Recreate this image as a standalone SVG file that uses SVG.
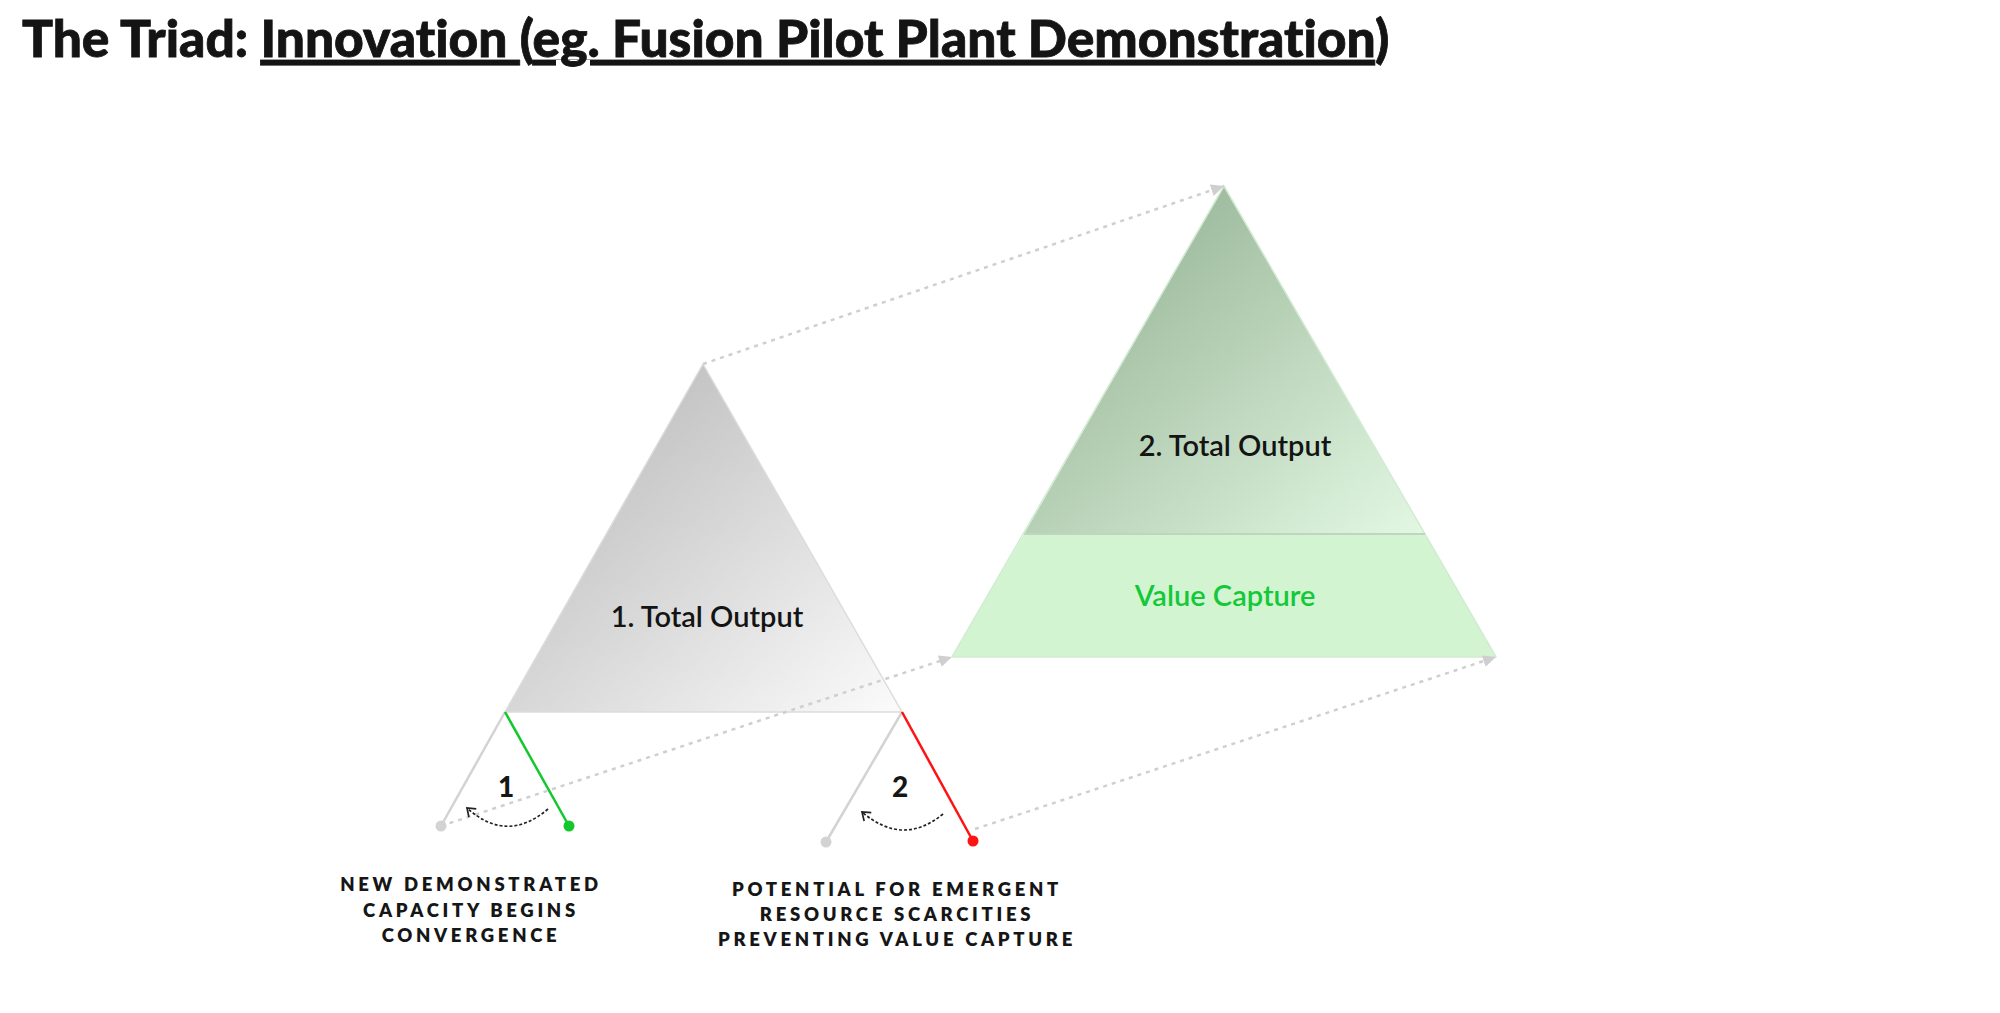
<svg xmlns="http://www.w3.org/2000/svg" width="2000" height="1013" viewBox="0 0 2000 1013">
  <style>
    text { font-variant-ligatures: none; }
    .title { font-family: Lato, "Noto Sans", sans-serif; font-weight: 900; font-size: 51.5px; fill: #141414; stroke: #141414; stroke-width: 0.8px; }
    .u { text-decoration: underline; }
    .tri-label { font-family: Lato, "Noto Sans", sans-serif; font-weight: 600; font-size: 29px; fill: #141414; text-anchor: middle; }
    .vc { font-family: Lato, "Noto Sans", sans-serif; font-weight: 600; font-size: 29px; fill: #14c83a; text-anchor: middle; }
    .num { font-family: Lato, "Noto Sans", sans-serif; font-weight: 900; font-size: 28px; fill: #161616; text-anchor: middle; }
    .cap { font-family: Lato, "Noto Sans", sans-serif; font-weight: 800; font-size: 18.5px; letter-spacing: 3.7px; fill: #161616; text-anchor: middle; }
    .dotted { fill: none; stroke: #cfcfcf; stroke-width: 2.5; stroke-dasharray: 4 5; }
    .curve { fill: none; stroke: #222; stroke-width: 1.7; stroke-dasharray: 3 2; }
    .leg { stroke-width: 2.5; fill: none; }
  </style>
  <defs>
    <linearGradient id="g1" x1="0.2" y1="0.2" x2="1" y2="1">
      <stop offset="0" stop-color="#c1c1c1"/>
      <stop offset="1" stop-color="#fbfbfb"/>
    </linearGradient>
    <linearGradient id="g2" x1="0.2" y1="0.2" x2="1" y2="1">
      <stop offset="0" stop-color="#9cb99c"/>
      <stop offset="1" stop-color="#e3f8e3"/>
    </linearGradient>
    <marker id="ah" markerUnits="userSpaceOnUse" markerWidth="14" markerHeight="12" refX="13" refY="6" orient="auto">
      <path d="M0,0 L13,6 L0,12 z" fill="#cfcfcf"/>
    </marker>
    <marker id="chev" markerUnits="userSpaceOnUse" markerWidth="12" markerHeight="14" refX="9" refY="7" orient="auto">
      <path d="M1.5,1.5 L9,7 L1.5,12.5" fill="none" stroke="#222" stroke-width="1.7"/>
    </marker>
  </defs>

  <g id="title">
    <text class="title" x="22" y="57">The Triad: <tspan class="u">Innovation </tspan>(<tspan class="u">eg. Fusion Pilot Plant Demonstration</tspan>)</text>
  </g>

  <g id="node-total-output-1">
    <polygon points="703,364 902,712 505,712" fill="url(#g1)" stroke="#dcdcdc" stroke-width="1.5" stroke-linejoin="round"/>
    <text class="tri-label" x="707" y="627">1. Total Output</text>
  </g>

  <g id="node-total-output-2">
    <polygon points="1024,534 1425,534 1496,657 952,657" fill="#d3f4d1"/>
    <polygon points="1224,186 1425,534 1024,534" fill="url(#g2)"/>
    <polygon points="1224,186 1496,657 952,657" fill="none" stroke="#d2ebd2" stroke-width="1.5" stroke-linejoin="round"/>
    <line x1="1024" y1="534" x2="1425" y2="534" stroke="#bfd5bf" stroke-width="2"/>
    <text class="tri-label" x="1235" y="456">2. Total Output</text>
    <text class="vc" x="1225" y="606">Value Capture</text>
  </g>

  <g id="connectors">
    <line class="dotted" x1="703" y1="364" x2="1224" y2="186" marker-end="url(#ah)"/>
    <line class="dotted" x1="441" y1="826" x2="952" y2="657" marker-end="url(#ah)"/>
    <line class="dotted" x1="975" y1="829" x2="1496" y2="657" marker-end="url(#ah)"/>
  </g>

  <g id="indicator-1">
    <line class="leg" x1="505" y1="712" x2="441" y2="826" stroke="#d3d3d3"/>
    <line class="leg" x1="505" y1="712" x2="569" y2="826" stroke="#12c82c"/>
    <circle cx="441" cy="826" r="5.5" fill="#d3d3d3"/>
    <circle cx="569" cy="826" r="5.5" fill="#12c82c"/>
    <text class="num" x="506" y="797">1</text>
    <path class="curve" d="M548,809 Q507,844 467,808" marker-end="url(#chev)"/>
  </g>

  <g id="indicator-2">
    <line class="leg" x1="902" y1="712" x2="826" y2="842" stroke="#d3d3d3"/>
    <line class="leg" x1="902" y1="712" x2="973" y2="841" stroke="#ff1212"/>
    <circle cx="826" cy="842" r="5.5" fill="#d3d3d3"/>
    <circle cx="973" cy="841" r="5.5" fill="#ff1212"/>
    <text class="num" x="900" y="797">2</text>
    <path class="curve" d="M943,814 Q903,847 862,812" marker-end="url(#chev)"/>
  </g>

  <g id="label-1">
    <text class="cap" x="471" y="891">NEW DEMONSTRATED</text>
    <text class="cap" x="471" y="917">CAPACITY BEGINS</text>
    <text class="cap" x="471" y="942">CONVERGENCE</text>
  </g>

  <g id="label-2">
    <text class="cap" x="897" y="896">POTENTIAL FOR EMERGENT</text>
    <text class="cap" x="897" y="921">RESOURCE SCARCITIES</text>
    <text class="cap" x="897" y="946">PREVENTING VALUE CAPTURE</text>
  </g>
</svg>
